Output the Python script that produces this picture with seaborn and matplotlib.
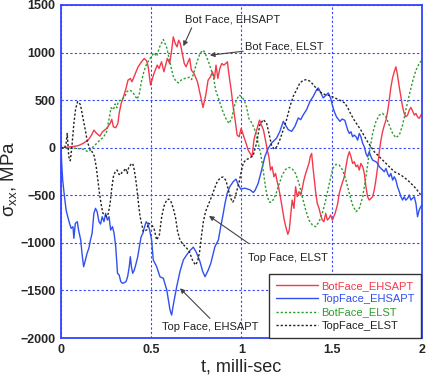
import numpy as np
import pandas as pd
import seaborn as sns
import matplotlib
matplotlib.use("Agg")
import matplotlib.pyplot as plt

# ---- datos (t en ms, sigma_xx en MPa) ----
bot_ehsapt_t = [0, 0.056, 0.094, 0.122, 0.150, 0.169, 0.182, 0.197, 0.215, 0.230, 0.253, 0.272, 0.281,
                0.290, 0.303, 0.315, 0.322, 0.333, 0.346, 0.360, 0.371, 0.384, 0.393, 0.408, 0.427, 0.446,
                0.461, 0.474, 0.483, 0.496, 0.515, 0.533, 0.543, 0.557, 0.570, 0.589, 0.602, 0.613, 0.622,
                0.633, 0.643, 0.652, 0.661, 0.672, 0.683, 0.693, 0.704, 0.713, 0.722, 0.737, 0.756, 0.774,
                0.787, 0.802, 0.815, 0.828, 0.839, 0.850, 0.859, 0.869, 0.880, 0.891, 0.902, 0.913, 0.922,
                0.931, 0.943, 0.954, 0.965, 0.976, 0.987, 0.998, 1.006, 1.013, 1.026, 1.037, 1.050, 1.059,
                1.069, 1.078, 1.087, 1.100, 1.111, 1.122, 1.133, 1.143, 1.152, 1.161, 1.170, 1.180, 1.189,
                1.198, 1.207, 1.217, 1.226, 1.237, 1.248, 1.257, 1.265, 1.272, 1.281, 1.291, 1.300, 1.309,
                1.319, 1.328, 1.337, 1.346, 1.356, 1.365, 1.374, 1.381, 1.389, 1.396, 1.404, 1.411, 1.420,
                1.430, 1.439, 1.448, 1.457, 1.467, 1.476, 1.485, 1.494, 1.504, 1.519, 1.533, 1.542, 1.552,
                1.561, 1.570, 1.579, 1.589, 1.598, 1.607, 1.616, 1.625, 1.635, 1.644, 1.653, 1.662, 1.672,
                1.681, 1.690, 1.699, 1.708, 1.718, 1.727, 1.736, 1.745, 1.755, 1.764, 1.773, 1.782, 1.792,
                1.801, 1.810, 1.819, 1.828, 1.838, 1.847, 1.856, 1.865, 1.875, 1.884, 1.893, 1.902, 1.911,
                1.921, 1.930, 1.939, 1.948, 1.958, 1.967, 1.976, 1.985, 2.000]
bot_ehsapt_s = [0, 10, 21, 45, 80, 133, 185, 150, 122, 168, 203, 255, 298,
                220, 210, 255, 360, 465, 535, 623, 710, 728, 693, 763, 850, 903,
                938, 913, 850, 658, 780, 868, 833, 903, 798, 938, 885, 1025, 1165,
                1095, 1060, 1130, 1095, 990, 885, 850, 903, 938, 815, 780, 693, 535,
                423, 553, 710, 745, 798, 728, 868, 728, 833, 885, 868, 885, 903,
                763, 605, 430, 290, 133, 115, 203, 160, 115, 45, -25, -67, -95,
                80, 150, 203, 290, 238, 185, 80, -25, -95, -235, -200, -305, -270,
                -357, -427, -532, -637, -760, -847, -910, -865, -725, -550, -637, -410, -515,
                -462, -497, -427, -340, -270, -217, -165, -95, -60, -200, -340, -462, -585,
                -637, -707, -760, -777, -690, -760, -742, -707, -760, -690, -592, -480, -410,
                -357, -305, -200, -95, -42, -95, -165, -147, -200, -182, -235, -165, -200,
                -270, -410, -515, -550, -532, -515, -445, -340, -200, -42, 80, 168, 238,
                290, 378, 500, 633, 738, 798, 850, 763, 633, 528, 430, 360, 325,
                343, 395, 423, 388, 343, 360, 325, 308, 360]

top_ehsapt_t = [0, 0.003, 0.009, 0.019, 0.028, 0.037, 0.047, 0.056, 0.066, 0.071, 0.079, 0.090, 0.097,
                0.109, 0.116, 0.125, 0.135, 0.144, 0.154, 0.163, 0.172, 0.182, 0.191, 0.200, 0.210, 0.219,
                0.228, 0.238, 0.247, 0.257, 0.266, 0.275, 0.285, 0.294, 0.303, 0.313, 0.322, 0.331, 0.341,
                0.350, 0.360, 0.369, 0.378, 0.384, 0.390, 0.397, 0.406, 0.416, 0.425, 0.434, 0.444, 0.453,
                0.463, 0.472, 0.481, 0.491, 0.502, 0.511, 0.530, 0.548, 0.567, 0.586, 0.604, 0.613, 0.622,
                0.641, 0.659, 0.678, 0.696, 0.715, 0.733, 0.750, 0.770, 0.785, 0.798, 0.816, 0.830, 0.853,
                0.872, 0.885, 0.896, 0.909, 0.921, 0.936, 0.955, 0.970, 0.982, 0.996, 1.019, 1.047, 1.065,
                1.075, 1.093, 1.112, 1.130, 1.149, 1.167, 1.195, 1.213, 1.232, 1.245, 1.259, 1.278, 1.296,
                1.315, 1.328, 1.343, 1.361, 1.380, 1.398, 1.417, 1.426, 1.440, 1.453, 1.466, 1.481, 1.494,
                1.503, 1.514, 1.527, 1.546, 1.558, 1.573, 1.589, 1.598, 1.607, 1.616, 1.625, 1.635, 1.644,
                1.653, 1.662, 1.672, 1.681, 1.690, 1.699, 1.708, 1.718, 1.727, 1.745, 1.755, 1.764, 1.773,
                1.782, 1.792, 1.801, 1.810, 1.819, 1.828, 1.838, 1.847, 1.856, 1.865, 1.875, 1.884, 1.893,
                1.902, 1.911, 1.921, 1.930, 1.939, 1.948, 1.958, 1.967, 1.976, 1.985, 1.994, 2.000]
top_ehsapt_s = [0, -150, -340, -515, -655, -725, -795, -847, -830, -952, -795, -777, -865,
                -970, -1110, -1250, -1180, -1110, -1057, -970, -900, -690, -637, -672, -777, -802,
                -725, -777, -690, -760, -725, -865, -830, -900, -1040, -1320, -1337, -1407, -1425,
                -1418, -1407, -1355, -1250, -1145, -1250, -1320, -1285, -1215, -1145, -1040, -935, -900,
                -830, -777, -802, -865, -969, -1179, -1250, -1355, -1372, -1495, -1706, -1758, -1653,
                -1460, -1302, -1179, -1127, -1080, -1045, -1100, -1197, -1300, -1355, -1285, -1214, -1039,
                -969, -828, -723, -582, -477, -407, -355, -330, -390, -435, -425, -442, -470,
                -450, -372, -232, -91, -4, 49, 102, 172, 277, 235, 190, 172, 224,
                313, 295, 347, 400, 488, 540, 611, 628, 576, 523, 548, 576, 523,
                453, 382, 323, 277, 302, 288, 185, 150, 168, 115, 133, 115, 80,
                150, 115, 45, 10, -60, -95, -42, -95, -130, -147, -165, -200, -217,
                -235, -252, -217, -270, -305, -270, -340, -305, -340, -410, -462, -515, -550,
                -515, -550, -532, -497, -550, -532, -515, -585, -725, -655, -620, -602]

bot_elst_t = [0, 0.080, 0.120, 0.150, 0.169, 0.178, 0.197, 0.215, 0.235, 0.253, 0.266, 0.277, 0.290,
              0.300, 0.309, 0.318, 0.330, 0.352, 0.365, 0.380, 0.395, 0.410, 0.422, 0.434, 0.446, 0.459,
              0.472, 0.487, 0.502, 0.515, 0.530, 0.548, 0.567, 0.586, 0.604, 0.622, 0.636, 0.650, 0.669,
              0.696, 0.712, 0.724, 0.752, 0.770, 0.787, 0.798, 0.816, 0.844, 0.857, 0.876, 0.894, 0.913,
              0.931, 0.946, 0.959, 0.972, 0.987, 1.002, 1.015, 1.028, 1.041, 1.059, 1.078, 1.093, 1.106,
              1.115, 1.124, 1.133, 1.143, 1.156, 1.170, 1.189, 1.207, 1.226, 1.244, 1.263, 1.281, 1.300,
              1.319, 1.337, 1.356, 1.374, 1.393, 1.411, 1.430, 1.448, 1.467, 1.485, 1.506, 1.524, 1.542,
              1.561, 1.579, 1.598, 1.616, 1.635, 1.653, 1.672, 1.690, 1.708, 1.727, 1.745, 1.764, 1.782,
              1.801, 1.819, 1.838, 1.856, 1.875, 1.893, 1.911, 1.930, 1.948, 1.967, 1.985, 2.000]
bot_elst_s = [0, -5, -15, -42, -17, 10, 45, 80, 110, 170, 300, 420, 400,
              460, 420, 490, 500, 530, 590, 605, 590, 545, 510, 570, 700, 800,
              870, 920, 960, 997, 961, 1067, 1137, 1050, 892, 751, 700, 681, 716,
              734, 740, 716, 892, 990, 1025, 997, 909, 751, 605, 500, 395, 308,
              255, 308, 430, 500, 553, 535, 500, 430, 308, 255, 168, 45, -60,
              -165, -287, -410, -515, -574, -567, -497, -392, -287, -228, -207, -220, -270,
              -375, -515, -655, -760, -812, -830, -777, -690, -550, -392, -217, -175, -182,
              -235, -340, -480, -602, -672, -637, -515, -305, -60, 150, 273, 343, 360,
              325, 238, 150, 105, 133, 238, 395, 553, 693, 815, 885, 920]

top_elst_t = [0, 0.019, 0.028, 0.034, 0.043, 0.051, 0.060, 0.071, 0.081, 0.092, 0.107, 0.122, 0.135,
              0.146, 0.159, 0.172, 0.184, 0.195, 0.204, 0.213, 0.223, 0.232, 0.243, 0.253, 0.262, 0.272,
              0.281, 0.290, 0.300, 0.311, 0.320, 0.330, 0.339, 0.348, 0.358, 0.367, 0.376, 0.388, 0.397,
              0.404, 0.412, 0.419, 0.430, 0.438, 0.456, 0.475, 0.484, 0.502, 0.515, 0.530, 0.545, 0.558,
              0.571, 0.586, 0.597, 0.609, 0.622, 0.635, 0.646, 0.659, 0.674, 0.693, 0.711, 0.728, 0.744,
              0.757, 0.768, 0.779, 0.789, 0.801, 0.816, 0.831, 0.848, 0.866, 0.885, 0.899, 0.914, 0.927,
              0.940, 0.951, 0.960, 0.973, 0.986, 0.997, 1.010, 1.025, 1.047, 1.066, 1.084, 1.102, 1.121,
              1.139, 1.152, 1.167, 1.182, 1.197, 1.213, 1.232, 1.250, 1.269, 1.287, 1.306, 1.324, 1.343,
              1.361, 1.380, 1.398, 1.417, 1.435, 1.463, 1.490, 1.518, 1.546, 1.573, 1.589, 1.607, 1.625,
              1.662, 1.699, 1.736, 1.773, 1.810, 1.847, 1.884, 1.921, 1.958, 1.985, 2.000]
top_elst_s = [0, -7, 45, 150, -95, -137, 10, 255, 413, 485, 455, 308, 180,
              60, -10, -42, -88, -200, -340, -480, -602, -690, -707, -725, -690, -585,
              -427, -305, -252, -235, -277, -287, -252, -242, -217, -270, -200, -175, -165,
              -217, -305, -407, -600, -723, -881, -863, -793, -811, -846, -969, -916, -723,
              -611, -548, -540, -565, -635, -740, -881, -969, -1011, -1046, -1092, -1179, -1232,
              -1197, -1092, -916, -776, -671, -600, -530, -442, -355, -312, -309, -344, -442,
              -530, -572, -548, -460, -372, -267, -161, -126, -109, -74, 49, 242, 295,
              260, 155, 21, -14, 14, 84, 190, 295, 435, 540, 611, 681, 709,
              716, 698, 663, 618, 586, 558, 548, 523, 498, 470, 420, 350, 290,
              185, 63, -42, -112, -182, -252, -287, -340, -410, -472, -515]

series_names = ["BotFace_EHSAPT", "TopFace_EHSAPT", "BotFace_ELST", "TopFace_ELST"]
series_colors = ["#f23a4c", "#3050f0", "#2e9e2e", "#222222"]
series_styles = ["-", "-", (0, (1.6, 1.4)), (0, (1.6, 1.4))]

# textos de las flechas: (texto, posicion del texto, cola de flecha, punta de flecha)
notas = [
    ("Bot Face, EHSAPT", (0.687, 1348), (0.724, 1260), (0.678, 1067)),
    ("Bot Face, ELST", (1.019, 1064), (1.010, 1014), (0.825, 972)),
    ("Top Face, ELST", (1.036, -1158), (1.038, -1003), (0.820, -716)),
    ("Top Face, EHSAPT", (0.560, -1885), (0.825, -1793), (0.659, -1477)),
]

frames = []
for name, t, s in zip(series_names,
                      [bot_ehsapt_t, top_ehsapt_t, bot_elst_t, top_elst_t],
                      [bot_ehsapt_s, top_ehsapt_s, bot_elst_s, top_elst_s]):
    frames.append(pd.DataFrame({"t": t, "sigma": s, "serie": name}))
df = pd.concat(frames, ignore_index=True)

sns.set_style("white")
plt.rcParams["font.family"] = ["Liberation Sans", "DejaVu Sans"]

azul = "#3344ff"
fig, ax = plt.subplots(figsize=(4.27, 3.82), dpi=100)
fig.subplots_adjust(left=0.143, right=0.988, top=0.987, bottom=0.115)

for name, col, ls in zip(series_names, series_colors, series_styles):
    sub = df[df["serie"] == name]
    sns.lineplot(data=sub, x="t", y="sigma", ax=ax, color=col, linestyle=ls,
                 linewidth=1.0, label=name, estimator=None, errorbar=None)

ax.set_xlim(0, 2)
ax.set_ylim(-2000, 1500)
ax.set_xticks([0, 0.5, 1, 1.5, 2])
ax.set_xticklabels(["0", "0.5", "1", "1.5", "2"])
ax.set_yticks(np.arange(-2000, 1501, 500))
ax.grid(True, color=azul, linestyle=(0, (2, 2)), linewidth=0.8)
for sp in ax.spines.values():
    sp.set_color(azul)
    sp.set_linewidth(1.3)
ax.tick_params(length=0, pad=4, labelsize=9)
for lab in ax.get_xticklabels() + ax.get_yticklabels():
    lab.set_fontweight("bold")

# etiquetas de ejes colocadas a mano como en la figura original
ax.set_xlabel("t, milli-sec", fontsize=13)
ax.xaxis.set_label_coords(0.5, -0.062)
ax.set_ylabel(r"$\mathregular{\sigma_{xx}}$, MPa", fontsize=13.5)
ax.yaxis.set_label_coords(-0.116, 0.477)

for texto, pos, cola, punta in notas:
    ax.text(pos[0], pos[1], texto, fontsize=8, ha="left", va="center", color="#222222")
    ax.annotate("", xy=punta, xytext=cola,
                arrowprops=dict(arrowstyle="-|>", color="#444444", lw=0.8,
                                mutation_scale=7, shrinkA=0, shrinkB=0))

leg = ax.legend(loc="lower right", fontsize=8, frameon=True, fancybox=False,
                edgecolor="#333333", framealpha=1, borderaxespad=0.05,
                handlelength=3.8, handletextpad=0.3, labelspacing=0.3,
                borderpad=0.6, labelcolor="linecolor")
leg.get_frame().set_linewidth(1.0)

plt.savefig("out.png", dpi=100)
